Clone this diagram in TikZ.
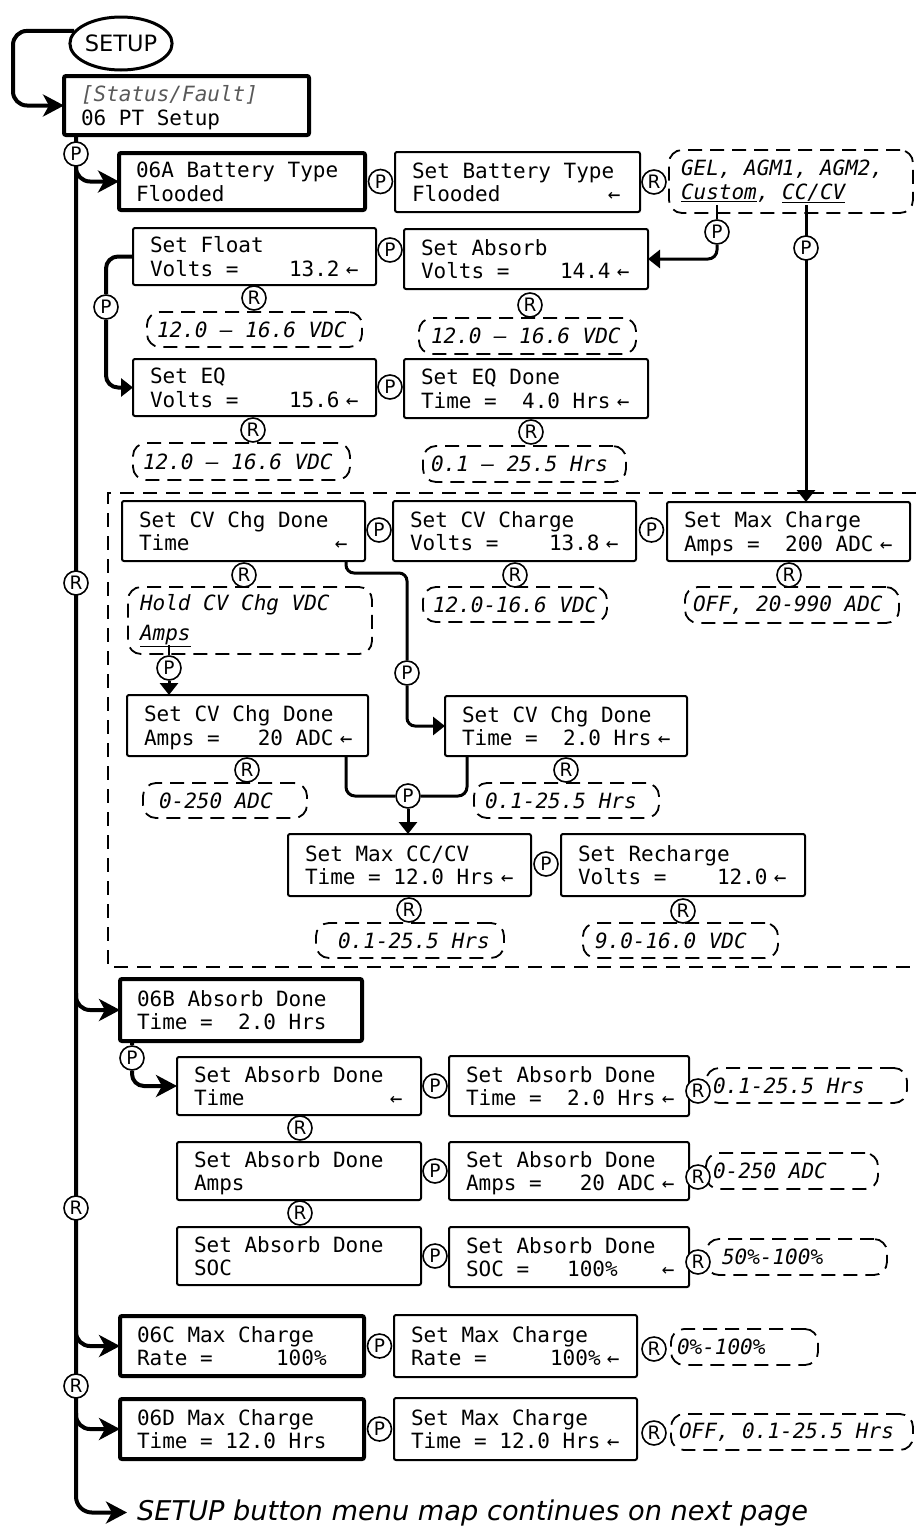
\documentclass[tikz,border=0pt]{standalone}
\usepackage{fontspec}
\setmainfont{DejaVu Sans}
\setsansfont{DejaVu Sans}[ItalicFont={DejaVu Sans Oblique}]
\setmonofont{DejaVu Sans Mono}[ItalicFont={DejaVu Sans Mono Oblique}]
\usetikzlibrary{shapes.geometric, arrows.meta, positioning, backgrounds}

\newcommand\monosp{\spaceskip=\fontcharwd\font`0\relax\xspaceskip=\spaceskip}
\newcommand\lcdfont{\ttfamily\fontsize{21}{23.5}\selectfont\frenchspacing}
\newcommand\circfont{\sffamily\fontsize{18.5}{18.5}\selectfont}
\newcommand\entr{\kern0.3em←}
\newcommand\lcd[2]{\rule{0pt}{22pt}#1\\#2\rule[-6pt]{0pt}{6pt}}

\begin{document}
\begin{tikzpicture}[x=1pt, y=-1pt,
    btip/.tip={Stealth[length=21pt,width=22pt,inset=6pt]},
    stip/.tip={Triangle[length=12pt,width=18pt]},
    lcd/.style={draw, line width=2pt, rounded corners=2pt, anchor=north west, inner sep=0pt, outer sep=0pt,
      text width=243pt, minimum height=60pt, align=left, font=\lcdfont, execute at begin node={\leftskip=17pt\monosp}},
    mainlcd/.style={lcd, line width=4pt, text width=245pt},
    rangebox/.style={draw, dash pattern=on 14pt off 8pt, line width=1.8pt, rounded corners=13pt, anchor=north west,
      inner sep=0pt, outer sep=0pt, minimum height=35pt, align=left, font={\lcdfont\itshape}},
    lpad/.style={execute at begin node={\leftskip=#1pt\monosp}},
    pc/.style={circle, draw, fill=white, line width=1.6pt, minimum size=24pt, inner sep=0pt, font=\circfont},
    trunkline/.style={line width=4pt, rounded corners=16pt, -btip},
    branch/.style={line width=4pt, rounded corners=14pt, -btip},
    link/.style={line width=3pt, rounded corners=9pt}]
    \useasboundingbox (0,0) rectangle (916,1526);

    % Entry
    \node[ellipse, draw, line width=3pt, minimum width=98pt, minimum height=53pt, inner sep=0pt,
      font=\sffamily\fontsize{22.5}{24}\selectfont] (setup) at (121,43.5) {SETUP};
    \node[mainlcd, minimum height=59pt] (status) at (64,76) {\lcd{\textcolor{black!65}{\itshape[Status/Fault]}}{06 PT Setup}};

    % 06A battery type
    \node[mainlcd, text width=246pt, minimum height=57pt] (bt) at (119,153) {\lcd{06A Battery Type}{Flooded}};
    \node[lcd, text width=245pt] (sbt) at (395,152) {\lcd{Set Battery Type}{Flooded~~~~~~~~\entr}};
    \node[rangebox, text width=244pt, minimum height=63pt, lpad=12] (rgel) at (669,150) {GEL, AGM1, AGM2,\\\underline{Custom}, \underline{CC/CV}};
    \node[lcd, minimum height=57pt] (sfl) at (133,228) {\lcd{Set Float}{Volts =~~~~13.2\entr}};
    \node[lcd, text width=244pt] (sab) at (404,229) {\lcd{Set Absorb}{Volts =~~~~14.4\entr}};
    \node[rangebox, text width=215pt, lpad=10] (rfl) at (147,312) {12.0 – 16.6 VDC};
    \node[rangebox, text width=217pt, minimum height=36pt, lpad=12] (rab) at (419,318) {12.0 – 16.6 VDC};
    \node[lcd, minimum height=57pt] (seq) at (133,359) {\lcd{Set EQ}{Volts =~~~~15.6\entr}};
    \node[lcd, text width=244pt, minimum height=59pt] (seqd) at (404,359) {\lcd{Set EQ Done}{Time =~~4.0 Hrs\entr}};
    \node[rangebox, text width=217pt, minimum height=37pt, lpad=10] (req) at (133,443) {12.0 – 16.6 VDC};
    \node[rangebox, text width=203pt, minimum height=36pt, lpad=8] (reqd) at (423,446) {0.1 – 25.5 Hrs};

    % CC/CV group
    \draw[dash pattern=on 14pt off 9pt, line width=1.6pt] (916,493) -| (108,967) -- (916,967);
    \node[lcd] (cvt) at (122,501) {\lcd{Set CV Chg Done}{Time~~~~~~~~~~~\entr}};
    \node[lcd] (cvc) at (393,501) {\lcd{Set CV Charge}{Volts =~~~~13.8\entr}};
    \node[lcd, minimum height=59pt] (smc) at (667,502) {\lcd{Set Max Charge}{Amps =~~200 ADC\entr}};
    \node[rangebox, text width=244pt, minimum height=67pt, lpad=12] (rhold) at (128,587) {Hold CV Chg VDC\\[6pt]\underline{Amps}};
    \node[rangebox, text width=184pt, lpad=10] (rcvc) at (423,587) {12.0-16.6 VDC};
    \node[rangebox, text width=214pt, minimum height=36pt, lpad=8] (rsmc) at (685,587) {OFF, 20-990 ADC};
    \node[lcd, text width=241pt, minimum height=61pt] (cva) at (127,695) {\lcd{Set CV Chg Done}{Amps =~~~20 ADC\entr}};
    \node[lcd, text width=242pt] (cvt2) at (445,696) {\lcd{Set CV Chg Done}{Time =~~2.0 Hrs\entr}};
    \node[rangebox, text width=164pt, lpad=16] (rcva) at (143,783) {0-250 ADC};
    \node[rangebox, text width=185pt, lpad=11] (rcvt2) at (474,783) {0.1-25.5 Hrs};
    \node[lcd, minimum height=62pt] (mcc) at (288,834) {\lcd{Set Max CC/CV}{Time = 12.0 Hrs\entr}};
    \node[lcd, text width=244pt, minimum height=62pt] (rch) at (561,834) {\lcd{Set Recharge}{Volts =~~~~12.0\entr}};
    \node[rangebox, text width=188pt, lpad=22] (rmcc) at (316,923) {0.1-25.5 Hrs};
    \node[rangebox, text width=195pt, lpad=12] (rrch) at (583,923) {9.0-16.0 VDC};

    % 06B absorb done
    \node[mainlcd, text width=242pt, minimum height=62pt] (ab) at (120,979) {\lcd{06B Absorb Done}{Time =~~2.0 Hrs}};
    \node[lcd, text width=244pt, minimum height=58pt] (adt) at (177,1057) {\lcd{Set Absorb Done}{Time~~~~~~~~~~~\entr}};
    \node[lcd, text width=244pt, minimum height=58pt] (ada) at (177,1142) {\lcd{Set Absorb Done}{Amps}};
    \node[lcd, text width=244pt, minimum height=58pt] (ads) at (177,1227) {\lcd{Set Absorb Done}{SOC}};
    \node[lcd, text width=240pt] (sadt) at (449,1056) {\lcd{Set Absorb Done}{Time =~~2.0 Hrs\entr}};
    \node[lcd, text width=240pt, minimum height=58pt] (sada) at (449,1142) {\lcd{Set Absorb Done}{Amps =~~~20 ADC\entr}};
    \node[lcd, text width=240pt] (sads) at (449,1227) {\lcd{Set Absorb Done}{SOC =~~~100\%~~~\entr}};
    \node[rangebox, text width=201pt, lpad=7] (rsadt) at (706,1068) {0.1-25.5 Hrs};
    \node[rangebox, text width=172pt, minimum height=36pt, lpad=7] (rsada) at (706,1153) {0-250 ADC};
    \node[rangebox, text width=181pt, minimum height=36pt, lpad=16] (rsads) at (706,1239) {50\%-100\%};

    % 06C / 06D max charge
    \node[mainlcd, text width=244pt] (mcr) at (120,1316) {\lcd{06C Max Charge}{Rate =~~~~~100\%}};
    \node[mainlcd, text width=244pt] (mct) at (120,1399) {\lcd{06D Max Charge}{Time = 12.0 Hrs}};
    \node[lcd, minimum height=62pt] (smr) at (394,1315) {\lcd{Set Max Charge}{Rate =~~~~~100\%\entr}};
    \node[lcd, minimum height=62pt] (smt) at (394,1398) {\lcd{Set Max Charge}{Time = 12.0 Hrs\entr}};
    \node[rangebox, text width=147pt, minimum height=36pt, lpad=6] (rsmr) at (671,1329) {0\%-100\%};
    \node[rangebox, text width=242pt, minimum height=36pt, lpad=8] (rsmt) at (671,1414) {OFF, 0.1-25.5 Hrs};

    \node[anchor=base west, inner xsep=10pt, inner ysep=0pt, font=\sffamily\itshape\fontsize{27.2}{30}\selectfont]
      (next) at (127,1520) {SETUP button menu map continues on next page};

    % Button circles
    \node[pc] (pA) at (76,154) {P};
    \node[pc] (pBT) at (380.5,181.5) {P};
    \node[pc] (rBT) at (654,182) {R};
    \node[pc] (pC) at (717,232) {P};
    \node[pc] (pCV) at (806,248) {P};
    \node[pc] (pFA) at (390,250) {P};
    \node[pc] (rFL) at (254,298) {R};
    \node[pc] (rAB) at (530,305) {R};
    \node[pc] (pFE) at (106,307) {P};
    \node[pc] (pEQ) at (390,387) {P};
    \node[pc] (rEQ) at (253,430) {R};
    \node[pc] (rEQD) at (531,432) {R};
    \node[pc] (pCV1) at (379,530) {P};
    \node[pc] (pCV2) at (651.5,530) {P};
    \node[pc] (rCVT) at (244,575) {R};
    \node[pc] (rCVC) at (515,575) {R};
    \node[pc] (rSMC) at (789,575) {R};
    \node[pc] (rT1) at (76,583) {R};
    \node[pc] (pH) at (169,668) {P};
    \node[pc] (pT) at (407,673) {P};
    \node[pc] (rCVA) at (247,770) {R};
    \node[pc] (rCVT2) at (566,770) {R};
    \node[pc] (pM) at (408,796) {P};
    \node[pc] (pMR) at (546,864) {P};
    \node[pc] (rMCC) at (409,910) {R};
    \node[pc] (rRCH) at (683,911) {R};
    \node[pc] (pB) at (132,1058) {P};
    \node[pc] (pAD1) at (435,1086) {P};
    \node[pc] (pAD2) at (435,1171) {P};
    \node[pc] (pAD3) at (435,1256) {P};
    \node[pc] (rAD1) at (300,1128) {R};
    \node[pc] (rAD2) at (300,1213) {R};
    \node[pc] (rSA1) at (698,1091) {R};
    \node[pc] (rSA2) at (698,1177) {R};
    \node[pc] (rSA3) at (698,1262) {R};
    \node[pc] (rT2) at (76,1208) {R};
    \node[pc] (pMR1) at (379.5,1346) {P};
    \node[pc] (rMR) at (654,1349) {R};
    \node[pc] (rT3) at (76,1386) {R};
    \node[pc] (pMT) at (379.5,1429) {P};
    \node[pc] (rMT) at (654,1433) {R};

    % Connectors
    \begin{scope}[on background layer]
    \coordinate (trunk) at ([xshift=12pt]status.south west);
    \draw[trunkline] (trunk) |- (next.west);
    \draw[branch] (setup.165) -| ([xshift=-51pt]status.west) -- (status.west);
    \draw[branch] (pA) |- (bt.west);
    \draw[branch] (ab.west -| trunk) ++(0,-17) |- (ab.west);
    \draw[branch] (mcr.west -| trunk) ++(0,-16) |- (mcr.west);
    \draw[branch] (mct.west -| trunk) ++(0,-16) |- (mct.west);
    \draw[branch, rounded corners=12pt] (ab.south -| pB) -- (pB) |- (adt.west);

    \path (rgel.south -| pC) ++(0,-8) coordinate (uCust);
    \path (rgel.south -| pCV) ++(0,-8) coordinate (uCCCV);
    \draw[line width=2pt] (uCust) -- (pC);
    \draw[link, -stip] (pC) |- (sab.east);
    \draw[link, -stip] (uCCCV) -- (smc.north -| pCV);
    \draw[link, line width=4pt, rounded corners=12pt, -stip] (sfl.west) -| (pFE) |- (seq.west);

    \path (rhold.south -| pH) ++(0,-9) coordinate (uAmps);
    \draw[line width=2pt] (uAmps) -- (pH);
    \draw[link, -stip] (pH) -- (cva.north -| pH);
    \draw[link, rounded corners=8pt, -stip] ([xshift=-19pt]cvt.south east) -- ++(0,12) -| (pT) |- (cvt2.west);
    \draw[link] ([xshift=-22pt]cva.south east) |- (pM);
    \draw[link] ([xshift=22pt]cvt2.south west) |- (pM);
    \draw[link, -stip] (pM) -- (mcc.north -| pM);
    \end{scope}
\end{tikzpicture}
\end{document}
